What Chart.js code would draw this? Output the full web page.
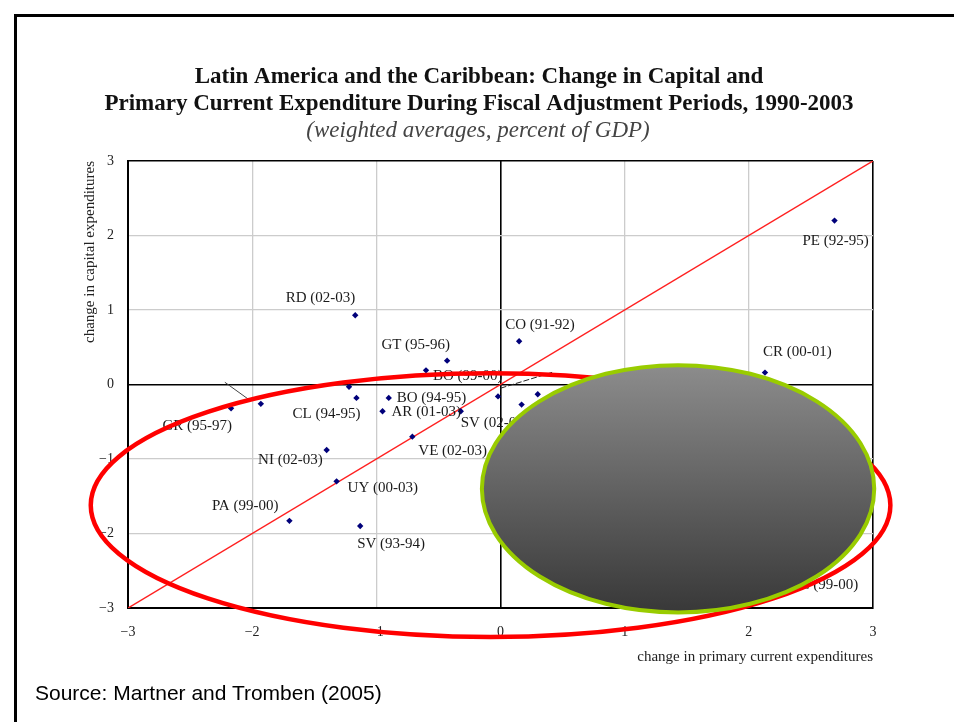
<!DOCTYPE html>
<html><head><meta charset="utf-8">
<script src="https://cdn.jsdelivr.net/npm/chart.js@4/dist/chart.umd.min.js"></script>
<style>
html,body{margin:0;padding:0;background:#fff;width:954px;height:722px;overflow:hidden;}
#frame{position:absolute;left:14px;top:14px;width:980px;height:740px;border-left:3px solid #000;border-top:3px solid #000;}
#wrap{position:absolute;left:0;top:0;width:954px;height:722px;}
#source{position:absolute;left:35px;top:680px;font-family:"Liberation Sans",Arial,sans-serif;font-size:21px;line-height:26px;color:#000;white-space:nowrap;}
</style></head><body>
<div id="frame"></div>
<div id="wrap"><canvas id="c" width="954" height="722"></canvas></div>
<div id="source">Source: Martner and Tromben (2005)</div>
<script>
// ---- data ----
const titleLines = ['Latin America and the Caribbean: Change in Capital and',
                    'Primary Current Expenditure During Fiscal Adjustment Periods, 1990-2003'];
const subtitleText = '(weighted averages, percent of GDP)';
const xAxisTitle = 'change in primary current expenditures';
const yAxisTitle = 'change in capital expenditures';
const xTickLabels = ['\u22123','\u22122','\u22121','0','1','2','3'];
const yTickLabels = ['\u22123','\u22122','\u22121','0','1','2','3'];
const pointNames = ['PE (92-95)','CR (00-01)','RD (02-03)','CO (91-92)','GT (95-96)','BO (99-00)','',
  'CL (94-95)','BO (94-95)','AR (01-03)','SV (02-03)','','VE (02-03)','NI (02-03)','UY (00-03)',
  'PA (99-00)','SV (93-94)','GR (95-97)','','','','EC (99-00)'];
const primaryCurrentChange = [2.69, 2.13, -1.17, 0.15, -0.43, -0.60, -1.22,
  -1.16, -0.90, -0.95, -0.32, -0.02, -0.71, -1.40, -1.32,
  -1.70, -1.13, -2.17, -1.93, 0.17, 0.30, 2.35];
const capitalChange = [2.20, 0.16, 0.93, 0.58, 0.32, 0.19, -0.03,
  -0.18, -0.18, -0.36, -0.36, -0.16, -0.70, -0.88, -1.30,
  -1.83, -1.90, -0.32, -0.26, -0.27, -0.13, -2.45];
const equalityLineX = [-3, 3];
const equalityLineY = [-3, 3];
const leaderLineAX = [-2.22, -2.02], leaderLineAY = [0.03, -0.21];
const leaderLineBX = [0.00, 0.43],  leaderLineBY = [-0.05, 0.17];

// ---- label placement (style, not data): [textAlign, dx, dy] ----
const labelPlacement = [['center',1,20],['left',-2,-21],['right',0,-17],['left',-14,-16],['right',3,-16],
  ['left',7,6],null,['right',4,16],['left',8,0],['left',9,1],['left',0,12],null,['left',6,14],
  ['right',-4,10],['left',11,7],['right',-11,-15],['left',-3,18],['right',1,18],null,null,null,['right',66,18]];

const serif = '"Liberation Serif","Times New Roman",serif';

const pts = primaryCurrentChange.map((x,i)=>({x:x, y:capitalChange[i]}));
const toPts = (xs,ys)=>xs.map((x,i)=>({x:x,y:ys[i]}));

const titlePlugin = {
  id:'titleBlock',
  afterDraw(chart){
    const ctx = chart.ctx;
    ctx.save();
    ctx.textAlign = 'center';
    ctx.textBaseline = 'middle';
    ctx.fillStyle = '#111';
    ctx.font = 'bold 23px ' + serif;
    ctx.fillText(titleLines[0], 479, 77);
    ctx.fillText(titleLines[1], 479, 104);
    ctx.fillStyle = '#444';
    ctx.font = 'italic 23px ' + serif;
    ctx.fillText(subtitleText, 478, 131);
    ctx.restore();
  }
};

const labelPlugin = {
  id:'pointLabels',
  afterDatasetsDraw(chart){
    const ctx = chart.ctx, sx = chart.scales.x, sy = chart.scales.y;
    ctx.save();
    ctx.font = '15px ' + serif;
    ctx.fillStyle = '#1a1a1a';
    ctx.textBaseline = 'middle';
    pointNames.forEach((name,i)=>{
      const p = labelPlacement[i];
      if(!name || !p) return;
      const px = sx.getPixelForValue(primaryCurrentChange[i]);
      const py = sy.getPixelForValue(capitalChange[i]);
      ctx.textAlign = p[0];
      ctx.fillText(name, px + p[1], py + p[2]);
    });
    ctx.restore();
  }
};

// overlay ellipses, defined in data units
const highlightRing = {cx:-0.08, cy:-1.62, rx:3.22, ry:1.77};
const coverShape = {cx:1.43, cy:-1.40, rx:1.58, ry:1.66};

const overlayPlugin = {
  id:'overlays',
  afterDraw(chart){
    const ctx = chart.ctx, sx = chart.scales.x, sy = chart.scales.y;
    const ux = sx.getPixelForValue(1) - sx.getPixelForValue(0);
    const uy = sy.getPixelForValue(0) - sy.getPixelForValue(1);
    ctx.save();
    ctx.beginPath();
    ctx.ellipse(sx.getPixelForValue(highlightRing.cx), sy.getPixelForValue(highlightRing.cy),
      highlightRing.rx*ux, highlightRing.ry*uy, 0, 0, Math.PI*2);
    ctx.lineWidth = 4.5;
    ctx.strokeStyle = '#ff0000';
    ctx.stroke();
    const cx = sx.getPixelForValue(coverShape.cx), cy = sy.getPixelForValue(coverShape.cy);
    const rx = coverShape.rx*ux, ry = coverShape.ry*uy;
    const g = ctx.createLinearGradient(0, cy-ry, 0, cy+ry);
    g.addColorStop(0, '#8c8c8c');
    g.addColorStop(1, '#383838');
    ctx.beginPath();
    ctx.ellipse(cx, cy, rx, ry, 0, 0, Math.PI*2);
    ctx.fillStyle = g;
    ctx.fill();
    ctx.lineWidth = 4;
    ctx.strokeStyle = '#99cc00';
    ctx.stroke();
    ctx.restore();
  }
};

const gridColor = c => (c.tick && (c.tick.value === 0 || Math.abs(c.tick.value) === 3)) ? '#000000' : '#cccccc';
const gridWidth = c => (c.tick && (c.tick.value === 0 || Math.abs(c.tick.value) === 3)) ? 1.6 : 1.3;

new Chart(document.getElementById('c'), {
  type:'scatter',
  data:{datasets:[
    {data: toPts(equalityLineX, equalityLineY), showLine:true, borderColor:'#ff2020', borderWidth:1.5, pointRadius:0, order:3},
    {data: toPts(leaderLineAX, leaderLineAY), showLine:true, borderColor:'#444', borderWidth:1, pointRadius:0, order:2},
    {data: toPts(leaderLineBX, leaderLineBY), showLine:true, borderColor:'#222', borderWidth:1, borderDash:[6,2], pointRadius:0, order:2},
    {data: pts, pointStyle:'rectRot', pointRadius:3.2, backgroundColor:'#00007a', borderColor:'#00007a', borderWidth:0, order:1}
  ]},
  options:{
    responsive:false, animation:false,
    layout:{padding:{left:0,right:81,top:161,bottom:0}},
    plugins:{ legend:{display:false}, tooltip:{enabled:false} },
    scales:{
      x:{type:'linear', min:-3, max:3,
        afterFit(s){ s.height = 114; },
        ticks:{stepSize:1, padding:16, color:'#222', font:{family:serif, size:14},
          callback:(v)=>xTickLabels[Math.round(v)+3]},
        grid:{color:gridColor, lineWidth:gridWidth, drawTicks:false},
        border:{display:true, color:'#000', width:2},
        title:{display:true, text:xAxisTitle, align:'end', color:'#222',
          font:{family:serif, size:15}, padding:{top:0,bottom:56}}
      },
      y:{type:'linear', min:-3, max:3,
        afterFit(s){ s.width = 128; },
        ticks:{stepSize:1, padding:14, color:'#222', font:{family:serif, size:14},
          callback:(v)=>yTickLabels[Math.round(v)+3]},
        grid:{color:gridColor, lineWidth:gridWidth, drawTicks:false},
        border:{display:true, color:'#000', width:2},
        title:{display:true, text:yAxisTitle, align:'end', color:'#222',
          font:{family:serif, size:15}, padding:{top:81,bottom:0}}
      }
    }
  },
  plugins:[labelPlugin, overlayPlugin, titlePlugin]
});
</script>
</body></html>
